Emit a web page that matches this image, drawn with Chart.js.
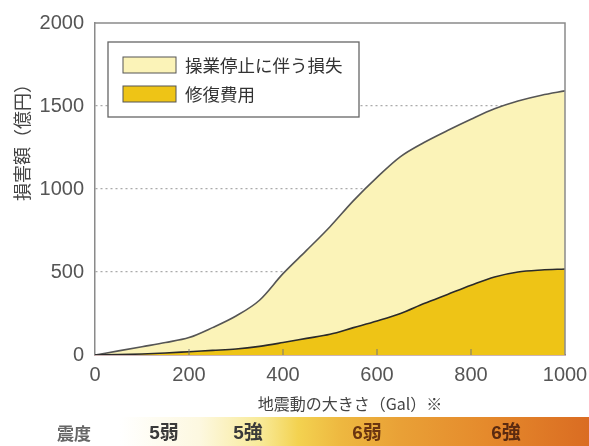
<!DOCTYPE html>
<html><head><meta charset="utf-8">
<script src="https://cdn.jsdelivr.net/npm/chart.js@4.4.1/dist/chart.umd.min.js"></script>
<style>html,body{margin:0;padding:0;background:#fff;}canvas{display:block;}</style>
</head><body>
<canvas id="c" width="589" height="446"></canvas>
<script>
const gal = [0,50,100,150,200,250,300,350,400,450,500,550,600,650,700,750,800,850,900,950,1000];
const repairCost = [0,2,6,12,20,28,36,52,75,100,125,165,205,250,310,365,420,470,500,512,518];
const stoppageLoss = [0,23,44,63,85,137,199,278,415,530,648,765,865,945,970,987,1000,1013,1030,1053,1073];
const seriesLabels = ['修復費用','操業停止に伴う損失'];
const yTicks = [0,500,1000,1500,2000];
const xTicks = [0,200,400,600,800,1000];
const yTitle = '損害額（億円）';
const xTitle = '地震動の大きさ（Gal）※';
const intensityTitle = '震度';
const intensityLabels = ['5弱','5強','6弱','6強'];

const tickFont = {family:"'Liberation Sans Narrow','Liberation Sans',Arial,sans-serif", size:20};
const cjk = "'Noto Sans CJK JP','Noto Sans',sans-serif";

const extras = {
  id:'extras',
  afterDatasetsDraw(chart){
    const {ctx, chartArea:a, scales:{x,y}} = chart;
    ctx.save();
    ctx.strokeStyle='#8a8a8a'; ctx.lineWidth=1.5;
    ctx.beginPath(); ctx.moveTo(a.left,a.top); ctx.lineTo(a.right,a.top); ctx.lineTo(a.right,a.bottom); ctx.stroke();
    ctx.strokeStyle='#777'; ctx.lineWidth=1;
    xTicks.slice(1,-1).forEach(v=>{const px=x.getPixelForValue(v);ctx.beginPath();ctx.moveTo(px,a.bottom);ctx.lineTo(px,a.bottom-6);ctx.stroke();});
    const ds = chart.data.datasets;
    const order=[1,0];
    ctx.fillStyle='#fff'; ctx.fillRect(108,42,251,75);
    ctx.strokeStyle='#666'; ctx.lineWidth=1.3; ctx.strokeRect(108,42,251,75);
    order.forEach((i,k)=>{
      const yy = 57 + k*29;
      ctx.fillStyle=ds[i].backgroundColor; ctx.fillRect(123,yy,53,16);
      ctx.strokeStyle='#555'; ctx.lineWidth=1; ctx.strokeRect(123,yy,53,16);
      ctx.fillStyle='#333'; ctx.font='17.5px '+cjk; ctx.textBaseline='middle'; ctx.textAlign='left';
      ctx.fillText(ds[i].label,185,yy+8);
    });
    ctx.fillStyle='#444'; ctx.font='18px '+cjk; ctx.textAlign='center'; ctx.textBaseline='middle';
    ctx.save(); ctx.translate(22,138); ctx.rotate(-Math.PI/2); ctx.fillText(yTitle,0,0); ctx.restore();
    ctx.font='16px '+cjk; ctx.fillText(xTitle,350,404);
    const g = ctx.createLinearGradient(120,0,589,0);
    g.addColorStop(0,'rgba(255,255,255,1)');
    g.addColorStop(0.17,'#fdf8e0');
    g.addColorStop(0.3,'#f8ea98');
    g.addColorStop(0.38,'#f3d250');
    g.addColorStop(0.47,'#eeb840');
    g.addColorStop(0.6,'#e9a036');
    g.addColorStop(0.78,'#e58a2c');
    g.addColorStop(1,'#da6c22');
    ctx.fillStyle=g; ctx.fillRect(120,417,469,29);
    ctx.textBaseline='middle'; ctx.textAlign='center';
    ctx.font='bold 17px '+cjk; ctx.fillStyle='#666'; ctx.fillText(intensityTitle,74,434);
    const pos=[164,248,367,506]; const cols=['#3a3a3a','#3a3a3a','#6a3510','#5a2a10'];
    intensityLabels.forEach((t,i)=>{ctx.fillStyle=cols[i]; ctx.font="bold 19px 'Liberation Sans Narrow','Liberation Sans',"+cjk; ctx.fillText(t,pos[i],434);});
    ctx.restore();
  }
};

new Chart(document.getElementById('c'),{
  type:'line',
  data:{datasets:[
    {label:seriesLabels[0], data:gal.map((g,i)=>({x:g,y:repairCost[i]})), fill:'origin',
     backgroundColor:'#eec416', borderColor:'#2a2a2a', borderWidth:1.6, pointRadius:0, cubicInterpolationMode:'monotone'},
    {label:seriesLabels[1], data:gal.map((g,i)=>({x:g,y:stoppageLoss[i]})), fill:'-1',
     backgroundColor:'#fbf3b8', borderColor:'#555', borderWidth:1.6, pointRadius:0, cubicInterpolationMode:'monotone'}
  ]},
  options:{
    responsive:false, animation:false, devicePixelRatio:1,
    layout:{padding:{top:23,right:24,left:0,bottom:0}},
    plugins:{legend:{display:false}, tooltip:{enabled:false}},
    scales:{
      x:{type:'linear',min:0,max:1000,
         afterFit(s){s.height=91; s.paddingRight=0; s.paddingLeft=0;},
         afterBuildTicks(s){s.ticks=xTicks.map(v=>({value:v}));},
         grid:{display:false,drawTicks:false},
         border:{display:true,color:'#9a6a6a',width:1.5},
         ticks:{font:tickFont,color:'#555',padding:8,maxRotation:0,callback:v=>String(v)}},
      y:{type:'linear',min:0,max:2000,stacked:true,
         afterFit(s){s.width=95; s.paddingTop=0; s.paddingBottom=0;},
         afterBuildTicks(s){s.ticks=yTicks.map(v=>({value:v}));},
         grid:{drawTicks:false,color:c=>(c.tick&&(c.tick.value===0||c.tick.value===2000))?'rgba(0,0,0,0)':'#aaa',lineWidth:1.2},
         border:{display:true,color:'#8a8a8a',width:1.5,dash:[2,3]},
         ticks:{font:tickFont,color:'#555',padding:11,callback:v=>String(v)}}
    }
  },
  plugins:[extras]
});
</script>
</body></html>
